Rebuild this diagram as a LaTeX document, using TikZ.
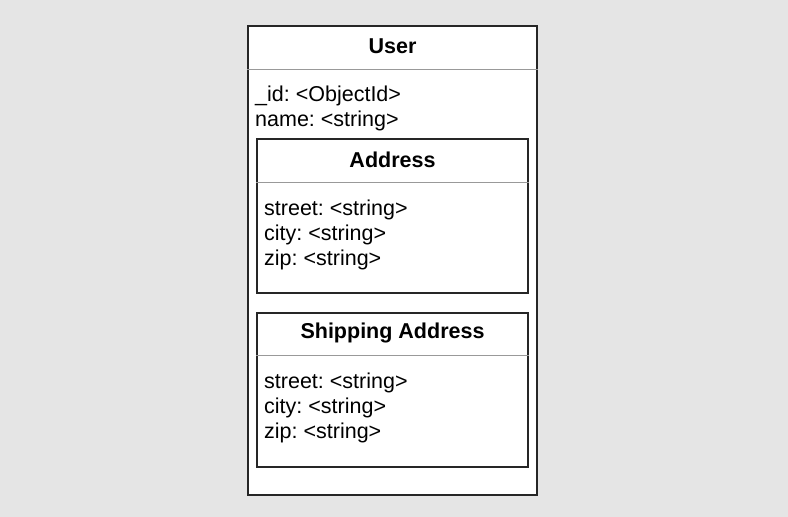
\documentclass[tikz,border=0pt]{standalone}
\usepackage{fontspec}
\setmainfont{Liberation Sans}
\frenchspacing
\tikzset{
    box/.style={draw=black!85, line width=1.6bp, fill=white, inner sep=0pt},
    rule/.style={draw=black!40, line width=1.2bp},
    title/.style={font=\fontsize{21.5bp}{25bp}\selectfont\bfseries, inner sep=0pt},
    attr/.style={font=\fontsize{21.5bp}{25bp}\selectfont, anchor=west, inner sep=0pt},
}
\begin{document}
\begin{tikzpicture}[x=1bp, y=-1bp]
        \fill[black!10] (0,0) rectangle (788,517);
        \useasboundingbox (0,0) rectangle (788,517);
        % outer class
        \node[box, minimum width=289bp, minimum height=469bp] (user) at (392.5,260.5) {};
        \draw[rule] ([yshift=-44bp]user.north west) -- ([yshift=-44bp]user.north east);
        \node[title] (usertitle) at (392.5,46) {User};
        \node[attr] (uid) at (255,96) {\_id: <ObjectId>};
        \node[attr] (uname) at (255,121) {name: <string>};
        % embedded documents
        \node[box, minimum width=271bp, minimum height=154bp] (address) at (392.5,216) {};
        \draw[rule] ([yshift=-44bp]address.north west) -- ([yshift=-44bp]address.north east);
        \node[title] (addresstitle) at (392.5,160) {Address};
        \node[box, minimum width=271bp, minimum height=154bp] (shipping) at (392.5,390) {};
        \draw[rule] ([yshift=-43bp]shipping.north west) -- ([yshift=-43bp]shipping.north east);
        \node[title] (shippingtitle) at (392.5,333) {Shipping Address};
        \foreach \y/\d in {210/street, 235/city, 260/zip} {
            \node[attr] (address-\d) at (264,\y) {\d: <string>};
        }
        \foreach \y/\d in {383/street, 408/city, 433/zip} {
            \node[attr] (shipping-\d) at (264,\y) {\d: <string>};
        }
    \end{tikzpicture}
\end{document}
